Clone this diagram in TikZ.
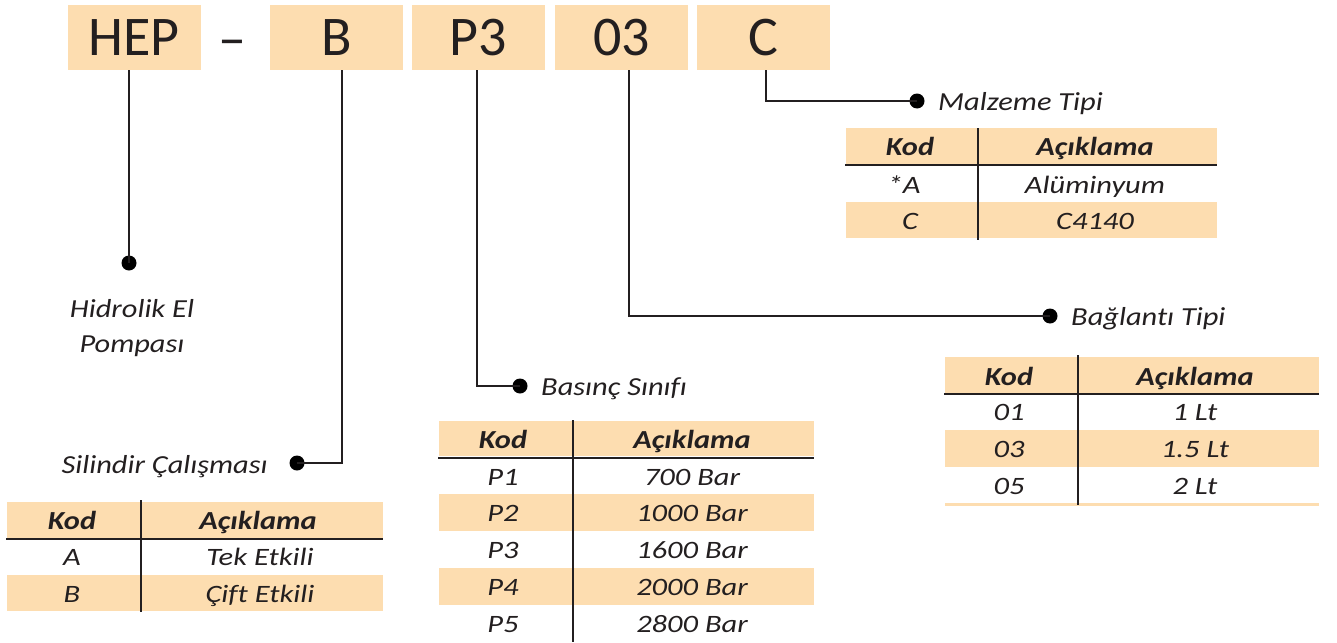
\documentclass[tikz,border=0pt]{standalone}
\usepackage{fontspec}
\setmainfont{Carlito}[Ligatures=NoCommon]
\newfontfamily\widefont{Carlito}[FakeStretch=1.17, Ligatures=NoCommon]
\newfontfamily\widerfont{Carlito}[FakeStretch=1.22, Ligatures=NoCommon]
\definecolor{tan}{RGB}{253,221,176}
\definecolor{ink}{RGB}{35,31,32}
\begin{document}
\begin{tikzpicture}[x=1pt,y=-1pt,
 hbox/.style={fill=tan, minimum width=133pt, minimum height=65pt, inner sep=0pt, font=\fontsize{56}{60}\selectfont, text=ink},
 lbl/.style={font=\widefont\fontsize{26}{30}\selectfont\itshape, text=ink, inner sep=0pt},
 hd/.style={font=\widefont\fontsize{26}{30}\selectfont\bfseries\itshape, text=ink, inner sep=0pt, text height=17pt, text depth=0pt},
 cell/.style={font=\widerfont\fontsize{25}{30}\selectfont\itshape, text=ink, inner sep=0pt, text height=16pt, text depth=0pt},
 band/.style={fill=tan, draw=none},
 conn/.style={draw=ink, line width=1.3pt},
 dot/.style={circle, fill=black, minimum size=15pt, inner sep=0pt},
 rule/.style={draw=ink, line width=2.5pt}]
\useasboundingbox (0,0) rectangle (1337,642);
% header code boxes
\node[hbox] (hep) at (134,37.5) {HEP};
\node[text=ink, font=\fontsize{56}{60}\selectfont, inner sep=0pt] (dash) at (232,49) {–};
\node[hbox] (b) at (336.5,37.5) {B};
\node[hbox] (p3) at (478.5,37.5) {P3};
\node[hbox] (o3) at (621.5,37.5) {03};
\node[hbox] (c) at (763,37.5) {C};
% dots
\node[dot] (d1) at (129,263) {};
\node[dot] (d2) at (297,463) {};
\node[dot] (d3) at (520,386) {};
\node[dot] (d4) at (1050,316) {};
\node[dot] (d5) at (917,101) {};
\coordinate (k2) at (342,463);
\coordinate (k3) at (477,386);
\coordinate (k4) at (629,316);
\coordinate (k5) at (766,101);
% connectors
\draw[conn] (d1 |- hep.south) -- (d1.center);
\draw[conn] (k2 |- b.south) -- (k2) -- (d2.center);
\draw[conn] (k3 |- p3.south) -- (k3) -- (d3.center);
\draw[conn] (k4 |- o3.south) -- (k4) -- (d4.center);
\draw[conn] (k5 |- c.south) -- (k5) -- (d5.center);
% labels
\node[lbl, anchor=west] (l5) at (938,104) {Malzeme Tipi};
\node[lbl, anchor=west] (l4) at (1071,319) {Bağlantı Tipi};
\node[lbl, anchor=west] (l3) at (541,389) {Basınç Sınıfı};
\node[lbl, anchor=east] (l2) at (268,467) {Silindir Çalışması};
\node[lbl] (l1a) at (132,309) {Hidrolik El};
\node[lbl] (l1b) at (132,346) {Pompası};

% ---- Malzeme Tipi table
\fill[band] (846,128) rectangle (1217,164);
\fill[band] (846,202) rectangle (1217,238);
\draw[rule] (845,165) -- (1217,165);
\draw[rule] (978,128) -- (978,240);
\node[hd] (m0a) at (910,147) {Kod};
\node[hd] (m0b) at (1095,147) {Açıklama};
\node[cell] (m1a) at (904,185) {*A};
\node[cell] (m1b) at (1095,185) {Alüminyum};
\node[cell] (m2a) at (910,221) {C};
\node[cell] (m2b) at (1095,221) {C4140};

% ---- Silindir table
\fill[band] (7,502) rectangle (383,538);
\fill[band] (7,575) rectangle (383,611);
\draw[rule] (6,539) -- (383,539);
\draw[rule] (141,500) -- (141,612);
\node[hd] (s0a) at (72,521) {Kod};
\node[hd] (s0b) at (258,521) {Açıklama};
\node[cell] (s1a) at (72,557) {A};
\node[cell] (s1b) at (260,557) {Tek Etkili};
\node[cell] (s2a) at (72,594) {B};
\node[cell] (s2b) at (260,594) {Çift Etkili};

% ---- Basinc table
\fill[band] (439,421) rectangle (814,456);
\fill[band] (439,494) rectangle (814,531);
\fill[band] (439,568) rectangle (814,605);
\draw[rule] (438,458) -- (814,458);
\draw[rule] (573,420) -- (573,642);
\node[hd] (b0a) at (503,440) {Kod};
\node[hd] (b0b) at (692,440) {Açıklama};
\node[cell] (b1a) at (503,477) {P1};
\node[cell] (b1b) at (692,477) {700 Bar};
\node[cell] (b2a) at (503,513) {P2};
\node[cell] (b2b) at (692,513) {1000 Bar};
\node[cell] (b3a) at (503,550) {P3};
\node[cell] (b3b) at (692,550) {1600 Bar};
\node[cell] (b4a) at (503,587) {P4};
\node[cell] (b4b) at (692,587) {2000 Bar};
\node[cell] (b5a) at (503,624) {P5};
\node[cell] (b5b) at (692,624) {2800 Bar};

% ---- Baglanti table
\fill[band] (945,357) rectangle (1319,393);
\fill[band] (945,430) rectangle (1319,467);
\fill[band] (945,503) rectangle (1319,506);
\draw[rule] (944,394) -- (1319,394);
\draw[rule] (1078,355) -- (1078,505);
\node[hd] (g0a) at (1009,377) {Kod};
\node[hd] (g0b) at (1195,377) {Açıklama};
\node[cell] (g1a) at (1009,412) {01};
\node[cell] (g1b) at (1195,412) {1 Lt};
\node[cell] (g2a) at (1009,449) {03};
\node[cell] (g2b) at (1195,449) {1.5 Lt};
\node[cell] (g3a) at (1009,486) {05};
\node[cell] (g3b) at (1195,486) {2 Lt};
\end{tikzpicture}
\end{document}
